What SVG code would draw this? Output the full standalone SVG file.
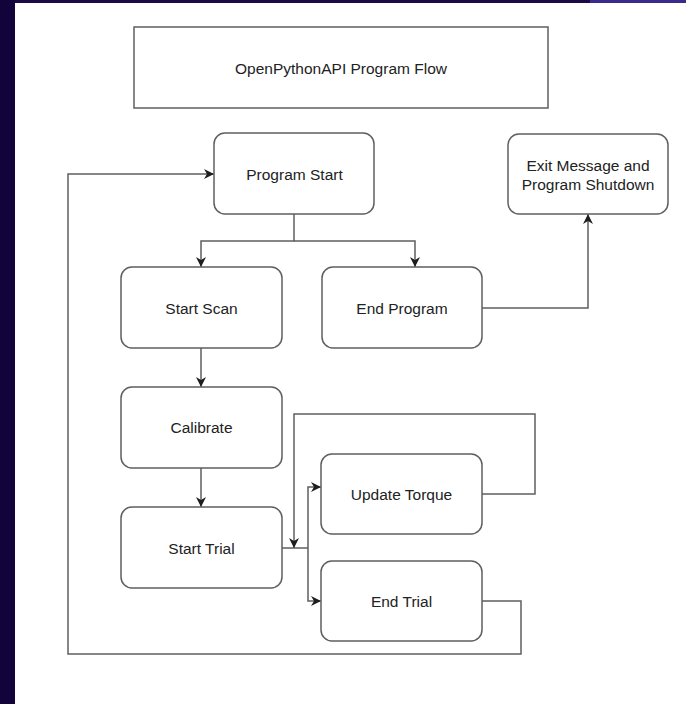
<svg xmlns="http://www.w3.org/2000/svg" width="686" height="704" viewBox="0 0 686 704">
<defs>
<style>
.box{fill:#ffffff;stroke:#5f5f5f;stroke-width:1.5}
.t{font-family:"Liberation Sans",Arial,sans-serif;font-size:15.5px;fill:#222222;text-anchor:middle}
.c{fill:none;stroke:#5f5f5f;stroke-width:1.5}
</style>
<marker id="ah" markerUnits="userSpaceOnUse" markerWidth="12" markerHeight="11" refX="10" refY="5.5" orient="auto">
<path d="M0,0.5 L10,5.5 L0,10.5 L3,5.5 Z" fill="#1e1e1e"/>
</marker>
</defs>
<rect x="0" y="0" width="686" height="704" fill="#ffffff"/>
<rect x="0" y="0" width="686" height="3" fill="#1a0a45"/>
<rect x="590" y="0" width="96" height="3" fill="#3b2a8a"/>
<rect x="0" y="0" width="15" height="704" fill="#12033a"/>

<g id="connectors">
<path class="c" d="M294,214 V241 H201 V267" marker-end="url(#ah)"/>
<path class="c" d="M294,241 H415 V267" marker-end="url(#ah)"/>
<path class="c" d="M482,308 H588 V214" marker-end="url(#ah)"/>
<path class="c" d="M201,348 V387" marker-end="url(#ah)"/>
<path class="c" d="M201,468 V507" marker-end="url(#ah)"/>
<path class="c" d="M282,548 H308"/>
<path class="c" d="M308,548 V487 H321" marker-end="url(#ah)"/>
<path class="c" d="M308,548 V601 H321" marker-end="url(#ah)"/>
<path class="c" d="M482,494 H535 V414 H294 V548" marker-end="url(#ah)"/>
<path class="c" d="M482,601 H521 V654 H68 V174 H214" marker-end="url(#ah)"/>
</g>

<g id="title">
<rect class="box" x="134" y="27" width="414" height="81"/>
<text class="t" x="341" y="73.5">OpenPythonAPI Program Flow</text>
</g>
<g id="program-start">
<rect class="box" x="214" y="133" width="160" height="81" rx="11"/>
<text class="t" x="294.5" y="179.5">Program Start</text>
</g>
<g id="exit-message">
<rect class="box" x="508" y="134" width="160" height="80" rx="11"/>
<text class="t" x="588" y="171">Exit Message and</text>
<text class="t" x="588" y="189.5">Program Shutdown</text>
</g>
<g id="start-scan">
<rect class="box" x="121" y="267" width="161" height="81" rx="11"/>
<text class="t" x="201.5" y="313.5">Start Scan</text>
</g>
<g id="end-program">
<rect class="box" x="322" y="267" width="160" height="81" rx="11"/>
<text class="t" x="402" y="313.5">End Program</text>
</g>
<g id="calibrate">
<rect class="box" x="121" y="387" width="161" height="81" rx="11"/>
<text class="t" x="201.5" y="432.5">Calibrate</text>
</g>
<g id="start-trial">
<rect class="box" x="121" y="507" width="161" height="81" rx="11"/>
<text class="t" x="201.5" y="553.5">Start Trial</text>
</g>
<g id="update-torque">
<rect class="box" x="321" y="454" width="161" height="80" rx="11"/>
<text class="t" x="401.5" y="499.5">Update Torque</text>
</g>
<g id="end-trial">
<rect class="box" x="321" y="561" width="161" height="80" rx="11"/>
<text class="t" x="401.5" y="606.5">End Trial</text>
</g>
</svg>
